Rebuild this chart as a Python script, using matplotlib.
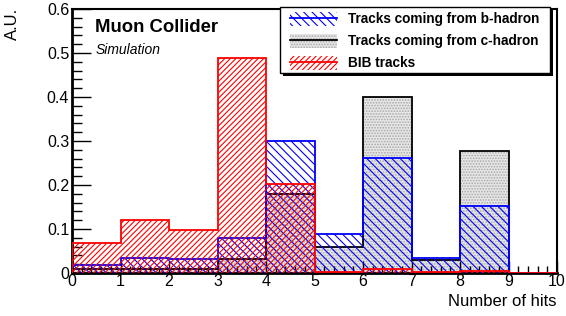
import matplotlib
matplotlib.use("Agg")
import matplotlib.pyplot as plt
from matplotlib.patches import Patch, Rectangle
from matplotlib.lines import Line2D
from matplotlib.ticker import MultipleLocator, FuncFormatter
import numpy as np

plt.rcParams['font.family'] = ['Liberation Sans', 'DejaVu Sans']
plt.rcParams['hatch.linewidth'] = 0.8

edges = [0, 1, 2, 3, 4, 5, 6, 7, 8, 9, 10]
b_hadron = [0.019, 0.033, 0.032, 0.079, 0.300, 0.089, 0.262, 0.033, 0.153, 0.0]
c_hadron = [0.010, 0.010, 0.010, 0.031, 0.179, 0.060, 0.400, 0.030, 0.278, 0.0]
bib = [0.069, 0.120, 0.098, 0.489, 0.202, 0.002, 0.009, 0.002, 0.004, 0.001]
labels = ["Tracks coming from b-hadron", "Tracks coming from c-hadron", "BIB tracks"]

RED_H = '//////'
BLUE_H = '\\\\\\\\'
DOT_H = '......'

W, H = 566, 316
fig = plt.figure(figsize=(W / 100, H / 100), dpi=100)
ax = fig.add_axes([72 / W, 1 - 273 / H, (557 - 72) / W, (273 - 9) / H])

left = np.array(edges[:-1])
ax.bar(left, c_hadron, width=1, align='edge', facecolor='#e6e6e6', edgecolor='#a8a8a8',
       hatch=DOT_H, linewidth=0, zorder=1)
ax.stairs(c_hadron, edges, color='black', lw=1.3, zorder=2)
ax.bar(left, b_hadron, width=1, align='edge', facecolor='none', edgecolor='blue',
       hatch=BLUE_H, linewidth=0, zorder=3)
ax.stairs(b_hadron, edges, color='blue', lw=1.3, zorder=4)
ax.bar(left, bib, width=1, align='edge', facecolor='none', edgecolor='red',
       hatch=RED_H, linewidth=0, zorder=5)
ax.stairs(bib, edges, color='red', lw=1.3, zorder=6)

ax.set_xlim(0, 10)
ax.set_ylim(0, 0.6)
ax.xaxis.set_major_locator(MultipleLocator(1))
ax.xaxis.set_minor_locator(MultipleLocator(0.2))
ax.yaxis.set_major_locator(MultipleLocator(0.1))
ax.yaxis.set_minor_locator(MultipleLocator(0.02))
ax.yaxis.set_major_formatter(FuncFormatter(lambda v, p: "0" if abs(v) < 1e-9 else f"{v:.1f}"))
ax.tick_params(which='both', direction='in', top=False, right=False, labelsize=11.5)
ax.tick_params(axis='y', which='major', length=14, width=1.0, pad=2)
ax.tick_params(axis='y', which='minor', length=7, width=1.0)
ax.tick_params(axis='x', which='major', length=9, width=1.0, pad=1)
ax.tick_params(axis='x', which='minor', length=5, width=1.0)
for s in ['left', 'bottom']:
    ax.spines[s].set_linewidth(2.0)
for s in ['top', 'right']:
    ax.spines[s].set_linewidth(1.5)

fig.text(12 / W, 1 - 8 / H, "A.U.", rotation=90, fontsize=12, ha='center', va='top')
fig.text(557 / W, 1 - 301 / H, "Number of hits", fontsize=12, ha='right', va='center')

ax.text(0.048, 0.93, "Muon Collider", transform=ax.transAxes, fontsize=13.3,
        fontweight='bold', va='center', ha='left')
ax.text(0.048, 0.845, "Simulation", transform=ax.transAxes, fontsize=10,
        style='italic', va='center', ha='left')

# legend frame with shadow (figure pixel coords)
x0, x1, y0, y1 = 280, 550, 7, 73
fig.patches.append(Rectangle(((x0 + 3) / W, 1 - (y1 + 3) / H), (x1 - x0) / W, (y1 - y0) / H,
                             transform=fig.transFigure, facecolor='black', edgecolor='none',
                             zorder=20))
fig.patches.append(Rectangle((x0 / W, 1 - y1 / H), (x1 - x0) / W, (y1 - y0) / H,
                             transform=fig.transFigure, facecolor='white', edgecolor='black',
                             linewidth=1.0, zorder=21))

h_b = (Patch(facecolor='none', edgecolor='blue', hatch=BLUE_H, linewidth=0),
       Line2D([], [], color='blue', lw=1.3))
h_c = (Patch(facecolor='#e6e6e6', edgecolor='#a8a8a8', hatch=DOT_H, linewidth=0),
       Line2D([], [], color='black', lw=1.3))
h_r = (Patch(facecolor='none', edgecolor='red', hatch=RED_H, linewidth=0),
       Line2D([], [], color='red', lw=1.3))
leg = fig.legend([h_b, h_c, h_r], labels, loc='upper left',
                 bbox_to_anchor=(285 / W, 1 - 7 / H), prop={'weight': 'bold', 'size': 9.8},
                 frameon=False, handlelength=3.5, handleheight=1.2,
                 labelspacing=0.55, borderpad=0.35, handletextpad=0.75, borderaxespad=0)
leg.set_zorder(22)

fig.savefig("out.png", dpi=100)
